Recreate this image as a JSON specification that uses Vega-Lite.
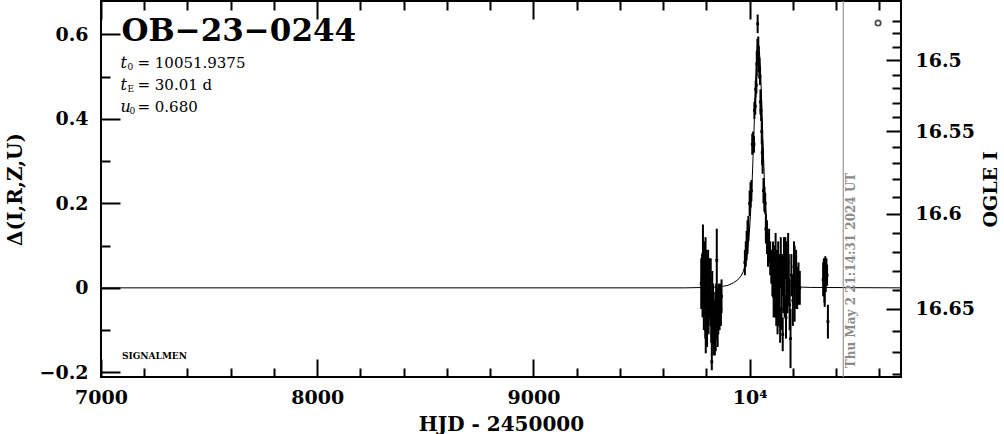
{
  "$schema": "https://vega.github.io/schema/vega-lite/v6.json",
  "width": 800,
  "height": 376,
  "autosize": {"type": "none"},
  "padding": {"left": 101, "top": 1, "right": 103, "bottom": 57},
  "background": "white",
  "config": {
    "view": {"stroke": "black", "strokeWidth": 2},
    "axis": {
      "labelFont": "DejaVu Serif", "labelFontSize": 19, "labelFontWeight": "bold", "labelColor": "black",
      "titleFont": "DejaVu Serif", "titleFontSize": 20, "titleFontWeight": "bold", "titleColor": "black",
      "tickColor": "black", "tickWidth": 2, "domain": false, "grid": false,
      "labelOverlap": false, "labelBound": false, "labelFlush": false
    }
  },
  "datasets": {
    "obs": [
      {"t": 9776, "d": 0.01, "lo": -0.05, "hi": 0.07},
      {"t": 9780, "d": 0.02, "lo": -0.04, "hi": 0.08},
      {"t": 9782, "d": -0.02, "lo": -0.07, "hi": 0.03},
      {"t": 9784, "d": 0.08, "lo": 0.01, "hi": 0.15},
      {"t": 9786, "d": 0.01, "lo": -0.04, "hi": 0.06},
      {"t": 9788, "d": -0.04, "lo": -0.10, "hi": 0.02},
      {"t": 9790, "d": 0.05, "lo": -0.01, "hi": 0.11},
      {"t": 9791, "d": 0.0, "lo": -0.05, "hi": 0.05},
      {"t": 9793, "d": 0.03, "lo": -0.04, "hi": 0.10},
      {"t": 9795, "d": -0.06, "lo": -0.12, "hi": 0.0},
      {"t": 9796, "d": 0.06, "lo": 0.0, "hi": 0.12},
      {"t": 9797, "d": -0.10, "lo": -0.155, "hi": -0.045},
      {"t": 9798, "d": 0.02, "lo": -0.03, "hi": 0.07},
      {"t": 9800, "d": -0.02, "lo": -0.09, "hi": 0.05},
      {"t": 9801, "d": 0.04, "lo": -0.01, "hi": 0.09},
      {"t": 9803, "d": -0.08, "lo": -0.14, "hi": -0.02},
      {"t": 9805, "d": 0.01, "lo": -0.05, "hi": 0.07},
      {"t": 9807, "d": -0.03, "lo": -0.08, "hi": 0.02},
      {"t": 9808, "d": 0.03, "lo": -0.03, "hi": 0.09},
      {"t": 9810, "d": -0.05, "lo": -0.11, "hi": 0.01},
      {"t": 9812, "d": 0.0, "lo": -0.07, "hi": 0.07},
      {"t": 9818, "d": -0.04, "lo": -0.09, "hi": 0.01},
      {"t": 9820, "d": 0.02, "lo": -0.03, "hi": 0.07},
      {"t": 9822, "d": -0.07, "lo": -0.13, "hi": -0.01},
      {"t": 9825, "d": -0.175, "lo": -0.195, "hi": -0.13},
      {"t": 9827, "d": -0.02, "lo": -0.08, "hi": 0.04},
      {"t": 9829, "d": -0.09, "lo": -0.14, "hi": -0.04},
      {"t": 9831, "d": -0.05, "lo": -0.11, "hi": 0.01},
      {"t": 9833, "d": -0.11, "lo": -0.16, "hi": -0.06},
      {"t": 9837, "d": -0.08, "lo": -0.13, "hi": -0.03},
      {"t": 9839, "d": -0.12, "lo": -0.16, "hi": -0.08},
      {"t": 9841, "d": -0.06, "lo": -0.11, "hi": -0.01},
      {"t": 9843, "d": -0.10, "lo": -0.15, "hi": -0.05},
      {"t": 9845, "d": -0.04, "lo": -0.09, "hi": 0.01},
      {"t": 9847, "d": -0.08, "lo": -0.12, "hi": -0.04},
      {"t": 9848, "d": 0.065, "lo": -0.01, "hi": 0.14},
      {"t": 9850, "d": -0.05, "lo": -0.10, "hi": 0.0},
      {"t": 9852, "d": -0.09, "lo": -0.14, "hi": -0.04},
      {"t": 9855, "d": -0.07, "lo": -0.11, "hi": -0.03},
      {"t": 9858, "d": -0.04, "lo": -0.09, "hi": 0.01},
      {"t": 9861, "d": -0.06, "lo": -0.10, "hi": -0.02},
      {"t": 9864, "d": -0.03, "lo": -0.07, "hi": 0.01},
      {"t": 9867, "d": -0.05, "lo": -0.09, "hi": -0.01},
      {"t": 9870, "d": -0.02, "lo": -0.06, "hi": 0.02},
      {"t": 9978, "d": 0.06, "lo": 0.03, "hi": 0.09},
      {"t": 9982, "d": 0.08, "lo": 0.05, "hi": 0.11},
      {"t": 9986, "d": 0.10, "lo": 0.065, "hi": 0.135},
      {"t": 9990, "d": 0.12, "lo": 0.08, "hi": 0.16},
      {"t": 9994, "d": 0.14, "lo": 0.11, "hi": 0.17},
      {"t": 10000, "d": 0.20, "lo": 0.17, "hi": 0.23},
      {"t": 10004, "d": 0.22, "lo": 0.19, "hi": 0.25},
      {"t": 10008, "d": 0.23, "lo": 0.205, "hi": 0.255},
      {"t": 10012, "d": 0.34, "lo": 0.315, "hi": 0.365},
      {"t": 10016, "d": 0.35, "lo": 0.33, "hi": 0.37},
      {"t": 10020, "d": 0.34, "lo": 0.32, "hi": 0.36},
      {"t": 10022, "d": 0.42, "lo": 0.40, "hi": 0.44},
      {"t": 10026, "d": 0.43, "lo": 0.41, "hi": 0.45},
      {"t": 10028, "d": 0.47, "lo": 0.45, "hi": 0.49},
      {"t": 10031, "d": 0.48, "lo": 0.46, "hi": 0.50},
      {"t": 10033, "d": 0.53, "lo": 0.50, "hi": 0.56},
      {"t": 10036, "d": 0.56, "lo": 0.53, "hi": 0.59},
      {"t": 10037, "d": 0.625, "lo": 0.603, "hi": 0.647},
      {"t": 10038, "d": 0.55, "lo": 0.525, "hi": 0.575},
      {"t": 10040, "d": 0.57, "lo": 0.545, "hi": 0.595},
      {"t": 10042, "d": 0.54, "lo": 0.51, "hi": 0.57},
      {"t": 10045, "d": 0.52, "lo": 0.495, "hi": 0.545},
      {"t": 10048, "d": 0.50, "lo": 0.48, "hi": 0.52},
      {"t": 10050, "d": 0.44, "lo": 0.41, "hi": 0.47},
      {"t": 10053, "d": 0.42, "lo": 0.395, "hi": 0.445},
      {"t": 10056, "d": 0.37, "lo": 0.34, "hi": 0.40},
      {"t": 10058, "d": 0.32, "lo": 0.29, "hi": 0.35},
      {"t": 10060, "d": 0.30, "lo": 0.27, "hi": 0.33},
      {"t": 10064, "d": 0.23, "lo": 0.20, "hi": 0.26},
      {"t": 10068, "d": 0.21, "lo": 0.18, "hi": 0.24},
      {"t": 10072, "d": 0.20, "lo": 0.175, "hi": 0.225},
      {"t": 10075, "d": 0.14, "lo": 0.105, "hi": 0.175},
      {"t": 10080, "d": 0.12, "lo": 0.08, "hi": 0.16},
      {"t": 10085, "d": 0.09, "lo": 0.05, "hi": 0.13},
      {"t": 10090, "d": 0.10, "lo": 0.06, "hi": 0.14},
      {"t": 10095, "d": 0.07, "lo": 0.03, "hi": 0.11},
      {"t": 10100, "d": 0.05, "lo": 0.01, "hi": 0.09},
      {"t": 10105, "d": 0.03, "lo": -0.02, "hi": 0.08},
      {"t": 10108, "d": 0.06, "lo": 0.01, "hi": 0.11},
      {"t": 10111, "d": -0.02, "lo": -0.07, "hi": 0.03},
      {"t": 10114, "d": 0.04, "lo": -0.02, "hi": 0.10},
      {"t": 10117, "d": 0.0, "lo": -0.07, "hi": 0.07},
      {"t": 10120, "d": 0.07, "lo": 0.01, "hi": 0.13},
      {"t": 10123, "d": -0.04, "lo": -0.09, "hi": 0.01},
      {"t": 10126, "d": 0.02, "lo": -0.05, "hi": 0.09},
      {"t": 10129, "d": -0.06, "lo": -0.11, "hi": -0.01},
      {"t": 10132, "d": 0.05, "lo": -0.01, "hi": 0.11},
      {"t": 10135, "d": -0.03, "lo": -0.09, "hi": 0.03},
      {"t": 10138, "d": 0.01, "lo": -0.06, "hi": 0.08},
      {"t": 10141, "d": -0.09, "lo": -0.13, "hi": -0.05},
      {"t": 10144, "d": 0.06, "lo": 0.0, "hi": 0.12},
      {"t": 10147, "d": -0.05, "lo": -0.10, "hi": 0.0},
      {"t": 10150, "d": 0.03, "lo": -0.02, "hi": 0.08},
      {"t": 10153, "d": -0.11, "lo": -0.15, "hi": -0.07},
      {"t": 10156, "d": 0.0, "lo": -0.06, "hi": 0.06},
      {"t": 10159, "d": 0.05, "lo": -0.02, "hi": 0.12},
      {"t": 10162, "d": -0.02, "lo": -0.07, "hi": 0.03},
      {"t": 10165, "d": 0.07, "lo": 0.02, "hi": 0.12},
      {"t": 10168, "d": -0.07, "lo": -0.12, "hi": -0.02},
      {"t": 10171, "d": 0.04, "lo": -0.03, "hi": 0.11},
      {"t": 10175, "d": -0.01, "lo": -0.06, "hi": 0.04},
      {"t": 10178, "d": 0.06, "lo": -0.01, "hi": 0.13},
      {"t": 10181, "d": 0.02, "lo": -0.04, "hi": 0.08},
      {"t": 10185, "d": -0.04, "lo": -0.10, "hi": 0.02},
      {"t": 10189, "d": -0.12, "lo": -0.19, "hi": -0.05},
      {"t": 10193, "d": 0.03, "lo": -0.02, "hi": 0.08},
      {"t": 10200, "d": -0.03, "lo": -0.09, "hi": 0.03},
      {"t": 10205, "d": 0.05, "lo": -0.01, "hi": 0.11},
      {"t": 10208, "d": 0.01, "lo": -0.08, "hi": 0.10},
      {"t": 10215, "d": 0.02, "lo": -0.05, "hi": 0.09},
      {"t": 10220, "d": 0.0, "lo": -0.05, "hi": 0.05},
      {"t": 10226, "d": 0.01, "lo": -0.04, "hi": 0.06},
      {"t": 10232, "d": 0.0, "lo": -0.04, "hi": 0.04},
      {"t": 10340, "d": 0.02, "lo": -0.02, "hi": 0.06},
      {"t": 10343, "d": 0.04, "lo": 0.01, "hi": 0.07},
      {"t": 10346, "d": 0.01, "lo": -0.035, "hi": 0.055},
      {"t": 10347, "d": 0.01, "lo": -0.045, "hi": 0.07},
      {"t": 10348, "d": 0.03, "lo": 0.0, "hi": 0.06},
      {"t": 10350, "d": 0.05, "lo": 0.025, "hi": 0.075},
      {"t": 10352, "d": 0.02, "lo": -0.01, "hi": 0.05},
      {"t": 10355, "d": 0.04, "lo": 0.01, "hi": 0.07},
      {"t": 10358, "d": 0.03, "lo": 0.005, "hi": 0.055},
      {"t": 10362, "d": -0.08, "lo": -0.12, "hi": -0.04}
    ],
    "model": [
      {"t": 7000, "d": 0.0}, {"t": 9700, "d": 0.0}, {"t": 9800, "d": 0.001}, {"t": 9850, "d": 0.002},
      {"t": 9880, "d": 0.004}, {"t": 9900, "d": 0.006}, {"t": 9925, "d": 0.012}, {"t": 9945, "d": 0.019},
      {"t": 9960, "d": 0.028}, {"t": 9970, "d": 0.038}, {"t": 9980, "d": 0.055}, {"t": 9990, "d": 0.085},
      {"t": 10000, "d": 0.14}, {"t": 10010, "d": 0.23}, {"t": 10015, "d": 0.30}, {"t": 10020, "d": 0.37},
      {"t": 10025, "d": 0.45}, {"t": 10030, "d": 0.52}, {"t": 10035, "d": 0.56}, {"t": 10040, "d": 0.57},
      {"t": 10045, "d": 0.56}, {"t": 10050, "d": 0.52}, {"t": 10055, "d": 0.45}, {"t": 10060, "d": 0.37},
      {"t": 10065, "d": 0.30}, {"t": 10070, "d": 0.23}, {"t": 10080, "d": 0.14}, {"t": 10090, "d": 0.085},
      {"t": 10100, "d": 0.055}, {"t": 10110, "d": 0.038}, {"t": 10120, "d": 0.028}, {"t": 10135, "d": 0.019},
      {"t": 10155, "d": 0.012}, {"t": 10180, "d": 0.006}, {"t": 10200, "d": 0.004}, {"t": 10230, "d": 0.002},
      {"t": 10280, "d": 0.001}, {"t": 10700, "d": 0.0}
    ],
    "one": [{}]
  },
  "layer": [
    {
      "layer": [
        {
          "data": {"name": "model"},
          "mark": {"type": "line", "color": "black", "strokeWidth": 1, "clip": true},
          "encoding": {
            "x": {
              "field": "t", "type": "quantitative",
              "scale": {"domain": [7000, 10700], "nice": false, "zero": false},
              "axis": {
                "orient": "bottom", "title": "HJD - 2450000",
                "values": [7000, 7200, 7400, 7600, 7800, 8000, 8200, 8400, 8600, 8800, 9000, 9200, 9400, 9600, 9800, 10000, 10200, 10400, 10600],
                "labelExpr": "datum.value == 10000 ? '10⁴' : (datum.value % 1000 == 0 ? format(datum.value, 'd') : '')",
                "tickSize": {"condition": {"test": "datum.value % 1000 == 0", "value": -18}, "value": -9},
                "labelPadding": 29, "titlePadding": -2
              }
            },
            "y": {
              "field": "d", "type": "quantitative",
              "scale": {"domain": [-0.211, 0.679], "nice": false, "zero": false},
              "axis": {
                "orient": "left", "title": "Δ(I,R,Z,U)",
                "values": [-0.2, -0.15, -0.1, -0.05, 0, 0.05, 0.1, 0.15, 0.2, 0.25, 0.3, 0.35, 0.4, 0.45, 0.5, 0.55, 0.6, 0.65],
                "labelExpr": "abs(datum.value * 5 - round(datum.value * 5)) < 1e-6 ? (abs(datum.value) < 1e-9 ? '0' : replace(format(datum.value, '.1f'), '-', '−')) : ''",
                "tickSize": {"condition": {"test": "abs(datum.value * 5 - round(datum.value * 5)) < 1e-6", "value": -19}, "value": -9},
                "labelPadding": 32, "titlePadding": 14
              }
            }
          }
        },
        {
          "data": {"name": "obs"},
          "mark": {"type": "rule", "color": "black", "strokeWidth": 2},
          "encoding": {
            "x": {"field": "t", "type": "quantitative"},
            "y": {"field": "lo", "type": "quantitative"},
            "y2": {"field": "hi"}
          }
        },
        {
          "data": {"name": "obs"},
          "mark": {"type": "square", "color": "black", "size": 8, "opacity": 1},
          "encoding": {
            "x": {"field": "t", "type": "quantitative"},
            "y": {"field": "d", "type": "quantitative"}
          }
        },
        {
          "data": {"name": "one"},
          "mark": {"type": "rule", "color": "#9a9a9a", "strokeWidth": 1.2},
          "encoding": {"x": {"datum": 10433, "type": "quantitative"}}
        },
        {
          "data": {"name": "one"},
          "mark": {"type": "text", "text": "Thu May  2 21:14:31 2024 UT", "angle": 270, "align": "left", "baseline": "middle", "dy": 8, "font": "DejaVu Serif", "fontWeight": "bold", "fontSize": 12, "color": "#8a8a8a"},
          "encoding": {"x": {"datum": 10433, "type": "quantitative"}, "y": {"datum": -0.19, "type": "quantitative"}}
        },
        {
          "data": {"name": "one"},
          "mark": {"type": "text", "text": "OB−23−0244", "align": "left", "baseline": "middle", "font": "DejaVu Serif", "fontWeight": "bold", "fontSize": 31, "color": "black"},
          "encoding": {"x": {"datum": 7095, "type": "quantitative"}, "y": {"datum": 0.605, "type": "quantitative"}}
        },
        {
          "data": {"name": "one"},
          "mark": {"type": "text", "text": "t", "align": "left", "baseline": "middle", "font": "DejaVu Serif", "fontStyle": "italic", "fontSize": 16, "color": "black"},
          "encoding": {"x": {"datum": 7090, "type": "quantitative"}, "y": {"datum": 0.532, "type": "quantitative"}}
        },
        {
          "data": {"name": "one"},
          "mark": {"type": "text", "text": "0", "align": "left", "baseline": "middle", "dx": 7, "dy": 4, "font": "DejaVu Serif", "fontSize": 9, "color": "black"},
          "encoding": {"x": {"datum": 7090, "type": "quantitative"}, "y": {"datum": 0.532, "type": "quantitative"}}
        },
        {
          "data": {"name": "one"},
          "mark": {"type": "text", "text": "=  10051.9375", "align": "left", "baseline": "middle", "dx": 17, "font": "DejaVu Serif", "fontSize": 15, "color": "black"},
          "encoding": {"x": {"datum": 7090, "type": "quantitative"}, "y": {"datum": 0.532, "type": "quantitative"}}
        },
        {
          "data": {"name": "one"},
          "mark": {"type": "text", "text": "t", "align": "left", "baseline": "middle", "font": "DejaVu Serif", "fontStyle": "italic", "fontSize": 16, "color": "black"},
          "encoding": {"x": {"datum": 7090, "type": "quantitative"}, "y": {"datum": 0.48, "type": "quantitative"}}
        },
        {
          "data": {"name": "one"},
          "mark": {"type": "text", "text": "E", "align": "left", "baseline": "middle", "dx": 7, "dy": 4, "font": "DejaVu Serif", "fontSize": 9, "color": "black"},
          "encoding": {"x": {"datum": 7090, "type": "quantitative"}, "y": {"datum": 0.48, "type": "quantitative"}}
        },
        {
          "data": {"name": "one"},
          "mark": {"type": "text", "text": "=  30.01  d", "align": "left", "baseline": "middle", "dx": 17, "font": "DejaVu Serif", "fontSize": 15, "color": "black"},
          "encoding": {"x": {"datum": 7090, "type": "quantitative"}, "y": {"datum": 0.48, "type": "quantitative"}}
        },
        {
          "data": {"name": "one"},
          "mark": {"type": "text", "text": "u", "align": "left", "baseline": "middle", "font": "DejaVu Serif", "fontStyle": "italic", "fontSize": 16, "color": "black"},
          "encoding": {"x": {"datum": 7090, "type": "quantitative"}, "y": {"datum": 0.428, "type": "quantitative"}}
        },
        {
          "data": {"name": "one"},
          "mark": {"type": "text", "text": "0", "align": "left", "baseline": "middle", "dx": 9, "dy": 4, "font": "DejaVu Serif", "fontSize": 9, "color": "black"},
          "encoding": {"x": {"datum": 7090, "type": "quantitative"}, "y": {"datum": 0.428, "type": "quantitative"}}
        },
        {
          "data": {"name": "one"},
          "mark": {"type": "text", "text": "=  0.680", "align": "left", "baseline": "middle", "dx": 17, "font": "DejaVu Serif", "fontSize": 15, "color": "black"},
          "encoding": {"x": {"datum": 7090, "type": "quantitative"}, "y": {"datum": 0.428, "type": "quantitative"}}
        },
        {
          "data": {"name": "one"},
          "mark": {"type": "text", "text": "SIGNALMEN", "align": "left", "baseline": "middle", "font": "DejaVu Serif", "fontWeight": "bold", "fontSize": 9, "color": "black"},
          "encoding": {"x": {"datum": 7097, "type": "quantitative"}, "y": {"datum": -0.161, "type": "quantitative"}}
        }
      ]
    },
    {
      "data": {"values": [{"t": 10594, "d": 0.627}]},
      "mark": {"type": "point", "shape": "circle", "filled": false, "size": 28, "stroke": "black", "strokeWidth": 1.8},
      "encoding": {
        "x": {
          "field": "t", "type": "quantitative",
          "scale": {"domain": [7000, 10700], "nice": false, "zero": false},
          "axis": {
            "orient": "top", "title": null, "labels": false,
            "values": [7000, 7200, 7400, 7600, 7800, 8000, 8200, 8400, 8600, 8800, 9000, 9200, 9400, 9600, 9800, 10000, 10200, 10400, 10600],
            "tickSize": {"condition": {"test": "datum.value % 1000 == 0", "value": -18}, "value": -9}
          }
        },
        "y": {
          "field": "d", "type": "quantitative",
          "scale": {"domain": [-0.211, 0.679], "nice": false, "zero": false},
          "axis": {
            "orient": "right", "title": "OGLE I", "titleAngle": 270, "titleBaseline": "top", "titleFontSize": 19,
            "values": [0.631, 0.603, 0.570, 0.539, 0.504, 0.472, 0.437, 0.404, 0.371, 0.333, 0.295, 0.257, 0.214, 0.176, 0.131, 0.086, 0.041, -0.004, -0.049, -0.101, -0.153, -0.203],
            "labelExpr": "datum.value == 0.539 ? '16.5' : datum.value == 0.371 ? '16.55' : datum.value == 0.176 ? '16.6' : datum.value == -0.049 ? '16.65' : ''",
            "tickSize": {"condition": {"test": "datum.value == 0.539 || datum.value == 0.371 || datum.value == 0.176 || datum.value == -0.049", "value": -15}, "value": -9},
            "labelPadding": 29, "titlePadding": 7
          }
        }
      }
    }
  ],
  "resolve": {"scale": {"x": "independent", "y": "independent"}}
}
